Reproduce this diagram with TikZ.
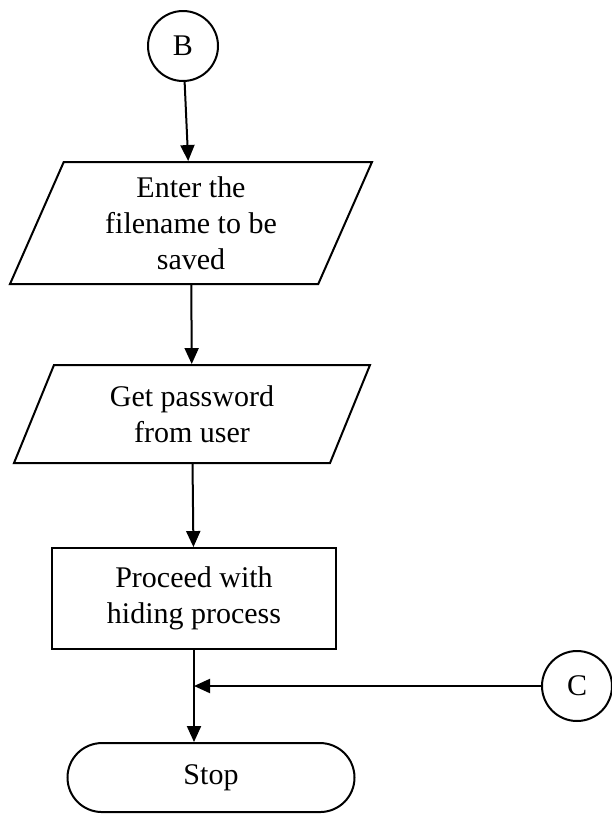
\documentclass[tikz,border=0pt]{standalone}
\usepackage{fontspec}
\setmainfont{Liberation Serif}
\usetikzlibrary{positioning,arrows.meta,shapes.geometric,shapes.misc}
\tikzset{
    every node/.style={font=\fontsize{30}{36}\selectfont},
    every edge/.style={draw,-{Triangle[length=16pt,width=14pt]},line width=2pt},
    flow/.style={draw,line width=2pt,align=center,inner sep=0pt},
    conn/.style={flow,circle,minimum size=70pt},
    inout/.style={flow,trapezium,trapezium left angle=60,trapezium right angle=120,trapezium stretches body},
    proc/.style={flow,rectangle,minimum width=284pt,minimum height=101pt},
    term/.style={flow,rounded rectangle,minimum width=287pt,minimum height=69pt},
}
\begin{document}
\begin{tikzpicture}[x=1pt,y=-1pt]
    \useasboundingbox (0,0) rectangle (612,817);
    \node[conn] (B) at (183,46) {B};
    \node[inout,minimum width=362pt,minimum height=122pt,below=79pt of B,xshift=8pt] (enter) {Enter the\\filename to be\\saved};
    \node[inout,trapezium left angle=55,trapezium right angle=125,minimum width=356pt,minimum height=98pt,below=79pt of enter,xshift=1pt] (pwd) {Get password\\from user};
    \node[proc,below=83pt of pwd,xshift=2pt] (hide) {Proceed with\\hiding process};
    \node[term,below=92pt of hide,xshift=17pt] (stop) {Stop};
    \node[conn] (C) at (577,686) {C};
    \coordinate (join) at (hide.south |- C.west);

    \path
    (B) edge (enter)
    (enter) edge (pwd)
    (pwd) edge (hide)
    (hide.south) edge (hide.south |- stop.north)
    (C) edge (join);
\end{tikzpicture}
\end{document}
